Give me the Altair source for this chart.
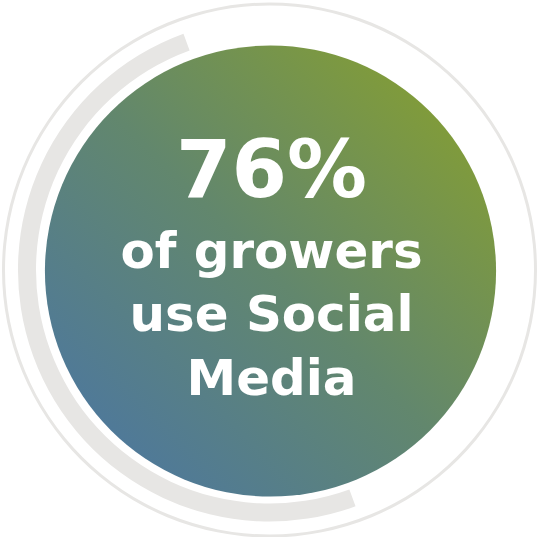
import math
import altair as alt
import pandas as pd

# ---- data ----
headline = ["76%"]
caption_lines = ["of growers", "use Social", "Media"]
arc_start_deg = [160]
arc_end_deg = [340]

W, H = 540, 540
CX, CY = 270, 270
TWO_PI = 2 * math.pi

one = pd.DataFrame({"v": [1]})

outer_ring = alt.Chart(one).mark_arc(
    radius=268, radius2=265, theta=0, theta2=TWO_PI, color="#e7e6e4"
).encode(x=alt.value(CX), y=alt.value(CY))

arc_df = pd.DataFrame({"s": arc_start_deg, "e": arc_end_deg})
thick_arc = alt.Chart(arc_df).mark_arc(
    radius=252, radius2=234, color="#e7e6e4"
).encode(
    theta=alt.Theta("s:Q", scale=alt.Scale(domain=[0, 360], range=[0, TWO_PI]), stack=None),
    theta2="e:Q",
    x=alt.value(CX),
    y=alt.value(CY),
)

gradient = alt.LinearGradient(
    gradient="linear",
    stops=[
        alt.GradientStop(color="#4874aa", offset=0),
        alt.GradientStop(color="#62876d", offset=0.5),
        alt.GradientStop(color="#8ca327", offset=1),
    ],
    x1=0, y1=1, x2=1, y2=0,
)

inner = alt.Chart(one).mark_arc(
    radius=226, theta=0, theta2=TWO_PI, color=gradient
).encode(x=alt.value(CX + 1), y=alt.value(CY + 1))

big = alt.Chart(pd.DataFrame({"t": headline})).mark_text(
    font="DejaVu Sans", fontWeight="bold", fontSize=80, color="white",
    align="center", baseline="alphabetic"
).encode(text="t:N", x=alt.value(272), y=alt.value(197))

cap = alt.Chart(pd.DataFrame({"t": ["\n".join(caption_lines)]})).mark_text(
    font="DejaVu Sans", fontWeight="bold", fontSize=50, color="white",
    align="center", baseline="alphabetic", lineBreak="\n", lineHeight=63.5
).encode(text="t:N", x=alt.value(272), y=alt.value(268))

chart = alt.layer(outer_ring, thick_arc, inner, big, cap).properties(
    width=W, height=H, autosize=alt.AutoSizeParams(type="none"), padding=0,
    background="white"
).configure_view(stroke=None)

chart.save("out.html", embed_options={"renderer": "svg", "actions": False})
